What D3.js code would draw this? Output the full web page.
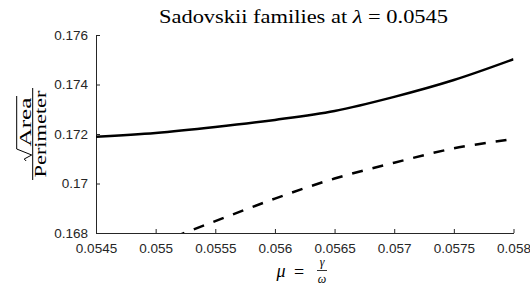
<!DOCTYPE html>
<html>
<head>
<meta charset="utf-8">
<script src="https://cdn.jsdelivr.net/npm/d3@7"></script>
<style>
  body { margin: 0; background: #fff; }
  svg { display: block; }
  .tick text { font-family: "Liberation Sans", Arial, sans-serif; font-size: 13.5px; fill: #262626; }
  .axis path, .axis line { stroke: #262626; stroke-width: 1; }
  .serif { font-family: "Liberation Serif", "DejaVu Serif", serif; fill: #000; }
</style>
</head>
<body>
<div id="chart"></div>
<script>
// values
var mu = [0.0545, 0.0550, 0.0555, 0.0560, 0.0565, 0.0570, 0.0575, 0.0580]
var solidRatio = [0.17189, 0.17204, 0.17228, 0.17257, 0.17293, 0.17350, 0.17418, 0.17502]
var dashedRatio = [0.16660, 0.16755, 0.16848, 0.16939, 0.17020, 0.17084, 0.17142, 0.17180]

var xTicks = [0.0545, 0.055, 0.0555, 0.056, 0.0565, 0.057, 0.0575, 0.058]
var yTicks = [0.168, 0.170, 0.172, 0.174, 0.176]

var W = 530, H = 289
var margin = { top: 35, right: 16.5, bottom: 56, left: 96 }
var width = W - margin.left - margin.right
var height = H - margin.top - margin.bottom

var svg = d3.select("#chart").append("svg")
    .attr("width", W)
    .attr("height", H)

var g = svg.append("g")
    .attr("transform", "translate(" + margin.left + "," + margin.top + ")")

var x = d3.scaleLinear().domain([0.0545, 0.058]).range([0, width])
var y = d3.scaleLinear().domain([0.168, 0.176]).range([height, 0])

// matlab style: strip trailing zeros
var fmt = function(d) { return String(+d.toFixed(4)) }

g.append("g")
    .attr("class", "axis")
    .attr("transform", "translate(0," + height + ")")
    .call(d3.axisBottom(x).tickValues(xTicks).tickFormat(fmt).tickSizeInner(-4).tickSizeOuter(0).tickPadding(10))

g.append("g")
    .attr("class", "axis")
    .call(d3.axisLeft(y).tickValues(yTicks).tickFormat(fmt).tickSizeInner(-4).tickSizeOuter(0).tickPadding(8))

g.selectAll(".axis .domain").attr("stroke", "#262626")

svg.append("clipPath")
    .attr("id", "plot-clip")
  .append("rect")
    .attr("width", width)
    .attr("height", height)

var line = d3.line()
    .x(function(d) { return x(d[0]) })
    .y(function(d) { return y(d[1]) })
    .curve(d3.curveCatmullRom)

var lines = g.append("g").attr("clip-path", "url(#plot-clip)")

lines.append("path")
    .datum(d3.zip(mu, solidRatio))
    .attr("d", line)
    .attr("fill", "none")
    .attr("stroke", "#000")
    .attr("stroke-width", 2.5)

lines.append("path")
    .datum(d3.zip(mu, dashedRatio))
    .attr("d", line)
    .attr("fill", "none")
    .attr("stroke", "#000")
    .attr("stroke-width", 2.5)
    .attr("stroke-dasharray", "11,10")

// title
var title = svg.append("text")
    .attr("class", "serif")
    .attr("x", 303.5)
    .attr("y", 22.5)
    .attr("text-anchor", "middle")
    .attr("textLength", 289)
    .attr("lengthAdjust", "spacingAndGlyphs")
    .style("font-size", "19px")
title.append("tspan").text("Sadovskii families at ")
title.append("tspan").style("font-style", "italic").text("λ")
title.append("tspan").text(" = 0.0545")

// x label: mu = gamma / omega
var xl = svg.append("g").attr("class", "serif")
xl.append("text").attr("class", "serif")
    .attr("x", 281).attr("y", 277).attr("text-anchor", "middle")
    .style("font-size", "18px").style("font-style", "italic").text("μ")
xl.append("text").attr("class", "serif")
    .attr("x", 299).attr("y", 278).attr("text-anchor", "middle")
    .style("font-size", "18px").text("=")
xl.append("text").attr("class", "serif")
    .attr("x", 322).attr("y", 266).attr("text-anchor", "middle")
    .style("font-size", "12px").style("font-style", "italic").text("γ")
xl.append("line")
    .attr("x1", 317).attr("x2", 327).attr("y1", 270.5).attr("y2", 270.5)
    .attr("stroke", "#000").attr("stroke-width", 0.8)
xl.append("text").attr("class", "serif")
    .attr("x", 322).attr("y", 282.5).attr("text-anchor", "middle")
    .style("font-size", "12px").style("font-style", "italic").text("ω")

// y label: sqrt(Area) / Perimeter, rotated
var yl = svg.append("g")
    .attr("transform", "translate(32.7,134) rotate(-90)")
yl.append("line")
    .attr("x1", -46).attr("x2", 46).attr("y1", 0).attr("y2", 0)
    .attr("stroke", "#000").attr("stroke-width", 1)
yl.append("text").attr("class", "serif")
    .attr("x", 0).attr("y", 13.5).attr("text-anchor", "middle")
    .attr("textLength", 87).attr("lengthAdjust", "spacingAndGlyphs")
    .style("font-size", "17px").text("Perimeter")
yl.append("text").attr("class", "serif")
    .attr("x", -12.5).attr("y", -2)
    .attr("textLength", 49).attr("lengthAdjust", "spacingAndGlyphs")
    .style("font-size", "17px").text("Area")
yl.append("path")
    .attr("d", "M38,-16L-15,-16L-21,-1L-25,-8.5L-27,-6.5")
    .attr("fill", "none").attr("stroke", "#000").attr("stroke-width", 1)
</script>
</body>
</html>
